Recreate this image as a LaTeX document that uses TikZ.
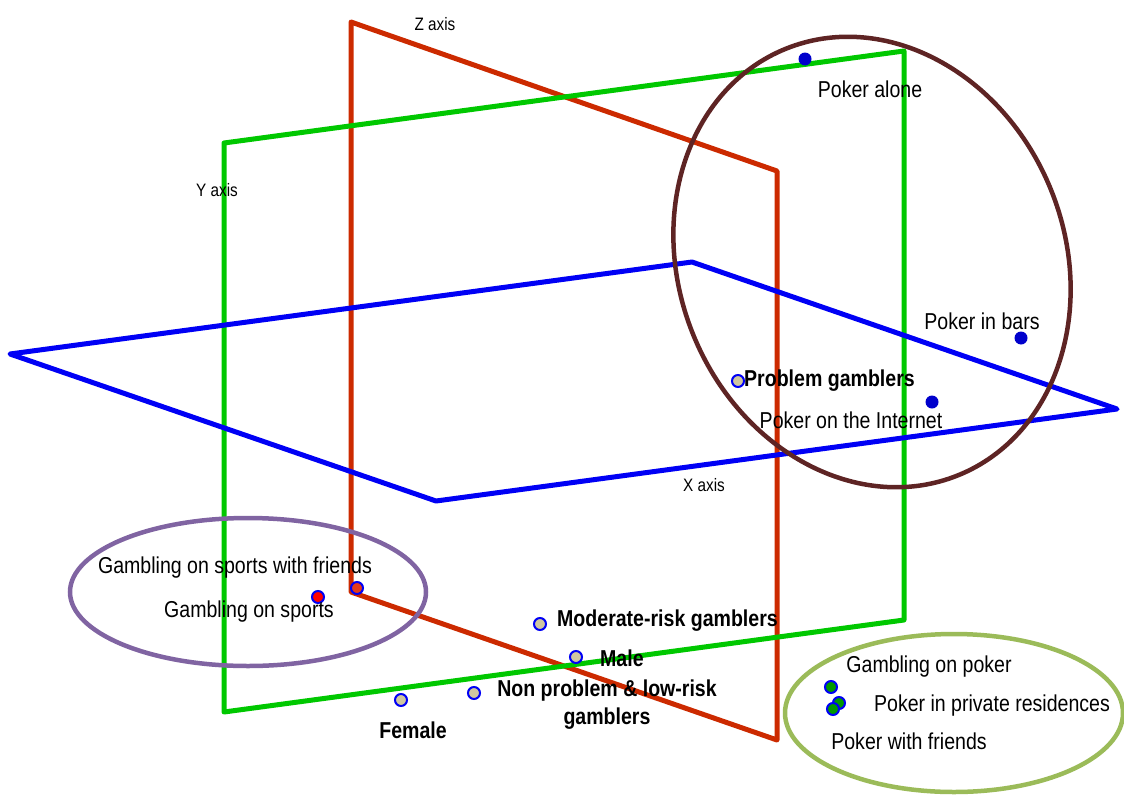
\documentclass[tikz,border=0pt]{standalone}
\usepackage{fontspec}
\setmainfont[FakeStretch=0.85]{Liberation Sans}
\usepackage{xcolor}
\definecolor{zred}{HTML}{CC2A00}
\definecolor{ygreen}{HTML}{00C800}
\definecolor{xblue}{HTML}{0000F5}
\definecolor{ringbrown}{HTML}{5E2424}
\definecolor{ringpurple}{HTML}{8064A2}
\definecolor{ringolive}{HTML}{9BBB59}
\definecolor{dotblue}{HTML}{0000CC}
\definecolor{dottan}{HTML}{CFC6A0}
\tikzset{
    plane/.style={line width=5pt, line join=round},
    ring/.style={line width=4.5pt},
    gdot/.style={circle, draw=xblue, line width=2pt, inner sep=0pt, minimum size=12pt},
    pdot/.style={circle, fill=dotblue, inner sep=0pt, minimum size=13pt},
    lbl/.style={font=\fontsize{23}{28}\selectfont, inner sep=0pt},
    blbl/.style={font=\fontsize{23}{28}\selectfont\bfseries, inner sep=0pt},
    axlbl/.style={font=\fontsize{18}{20}\selectfont, inner sep=0pt}
}
\begin{document}
\begin{tikzpicture}[x=1pt, y=-1pt]
        \useasboundingbox (0, 0) rectangle (1124, 795);
        % planes
        \draw[plane, zred] (351, 22) -- (777, 171) -- (777, 740) -- (351, 592) -- cycle;
        \draw[plane, ygreen] (224, 143) -- (904, 51) -- (904, 620) -- (224, 712) -- cycle;
        \draw[plane, xblue] (10, 354) -- (692, 262) -- (1117, 409) -- (436, 501) -- cycle;
        \node[axlbl] (zaxis) at (435, 24) {Z axis};
        \node[axlbl] (yaxis) at (217, 190) {Y axis};
        \node[axlbl] (xaxis) at (704, 485) {X axis};
        % clusters
        \draw[ring, ringbrown, rotate around={22:(872, 262)}] (872, 262) ellipse [x radius=193pt, y radius=230pt];
        \draw[ring, ringpurple] (248, 592) ellipse [x radius=178pt, y radius=74pt];
        \draw[ring, ringolive] (954, 713) ellipse [x radius=169pt, y radius=79pt];
        % poker
        \node[pdot] (alone) at (805, 59) {};
        \node[lbl] at (870, 89) {Poker alone};
        \node[pdot] (bars) at (1021, 338) {};
        \node[lbl] at (982, 321) {Poker in bars};
        \node[pdot] (internet) at (932, 402) {};
        \node[lbl] at (851, 420) {Poker on the Internet};
        \node[gdot, fill=dottan] (problem) at (738, 381) {};
        \node[blbl, anchor=west] at (744, 381) {Problem gamblers};
        % sports
        \node[gdot, fill=red!55!brown] (sportsfr) at (357, 588) {};
        \node[lbl] at (235, 568) {Gambling on sports with friends};
        \node[gdot, fill=red] (sports) at (318, 597) {};
        \node[lbl] at (249, 612) {Gambling on sports};
        % gamblers
        \node[gdot, fill=dottan] (moderate) at (540, 624) {};
        \node[blbl, anchor=west] at (557, 621) {Moderate-risk gamblers};
        \node[gdot, fill=dottan] (male) at (576, 657) {};
        \node[blbl, anchor=west] at (600, 658) {Male};
        \node[gdot, fill=dottan] (lowrisk) at (474, 693) {};
        \node[blbl, align=center] at (607, 705) {Non problem \& low-risk\\gamblers};
        \node[gdot, fill=dottan] (female) at (401, 700) {};
        \node[blbl] at (413, 730) {Female};
        % private poker
        \node[gdot, fill=green!60!black] (pokergam) at (831, 687) {};
        \node[lbl] at (929, 667) {Gambling on poker};
        \node[gdot, fill=green!60!black] (private) at (839, 703) {};
        \node[lbl] at (992, 706) {Poker in private residences};
        \node[gdot, fill=green!60!black] (friends) at (833, 709) {};
        \node[lbl] at (909, 741) {Poker with friends};
    \end{tikzpicture}
\end{document}
